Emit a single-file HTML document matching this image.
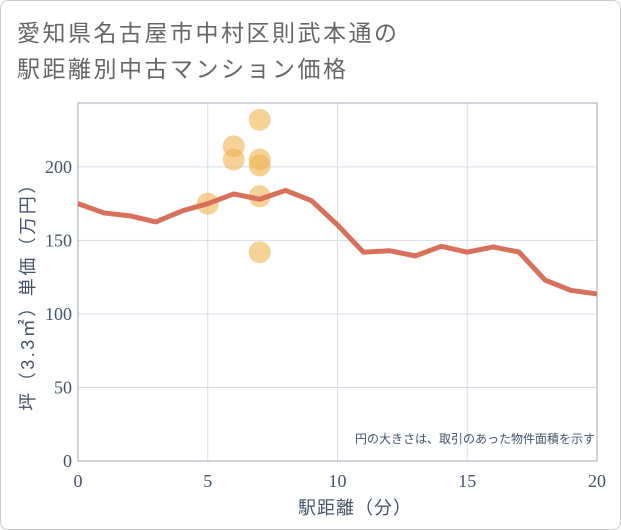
<!DOCTYPE html>
<html><head><meta charset="utf-8"><style>
body{margin:0;background:#fff;}
#wrap{position:relative;width:621px;height:530px;overflow:hidden;font-family:"Liberation Sans","Noto Sans CJK JP",sans-serif;}
#frame{position:absolute;left:0;top:0;width:619px;height:528px;border:1px solid #ccc;border-radius:8px;}
.title{position:absolute;left:17px;font-size:23px;color:#666;letter-spacing:2.5px;white-space:nowrap;}
</style></head><body>
<div id="wrap">
<div id="frame"></div>
<div class="title" style="top:14px">愛知県名古屋市中村区則武本通の</div>
<div class="title" style="top:50px">駅距離別中古マンション価格</div>
<svg id="svg" width="621" height="530" style="position:absolute;left:0;top:0"></svg>
</div>
<script>
const xTicks=[0,5,10,15,20];
const yTicks=[0,50,100,150,200];
const lineX=[0,1,2,3,4,5,6,7,8,9,10,11,12,13,14,15,16,17,18,19,20];
const lineY=[175,168.7,166.7,162.6,170,175,181.6,178,184,177,160.5,142,143,139.5,146,142,145.6,142,123,116,113.6];
const scatterX=[5,6,6,7,7,7,7,7];
const scatterY=[175,214,205,232,205,201,180,142];
const NS="http://www.w3.org/2000/svg";
const svg=document.getElementById('svg');
const L=78,R=597,T=103,B=461;
const xs=v=>L+(v-0)/(20-0)*(R-L);
const ys=v=>B-v*1.4705;
function mk(tag,attrs){const e=document.createElementNS(NS,tag);for(const k in attrs)e.setAttribute(k,attrs[k]);svg.appendChild(e);return e;}
let g;
for(const t of xTicks){
 g=mk('line',{x1:xs(t),x2:xs(t),y1:T,y2:B,stroke:'#d5dde8','stroke-width':1});
 
 
 g=mk('text',{x:xs(t),y:487,'text-anchor':'middle','font-size':18,fill:'#44546a','font-family':'Liberation Serif, serif'});
 g.textContent=t;
 
 
}
for(const t of yTicks){
 g=mk('line',{x1:L,x2:R,y1:ys(t),y2:ys(t),stroke:'#d5dde8','stroke-width':1});
 
 
 g=mk('text',{x:72,y:ys(t)+6,'text-anchor':'end','font-size':18,fill:'#44546a','font-family':'Liberation Serif, serif'});
 g.textContent=t;
 
 
}
g=mk('rect',{x:L,y:T,width:R-L,height:B-T,fill:'none',stroke:'#a0a8b4','stroke-width':1});


for(let i=0;i<scatterX.length;i++){
 g=mk('circle',{cx:xs(scatterX[i]),cy:ys(scatterY[i]),r:11,fill:'rgba(240,180,80,0.6)'});
 
 
}
g=mk('polyline',{points:lineX.map((x,i)=>xs(x)+','+ys(lineY[i])).join(' '),fill:'none',stroke:'#d9705a','stroke-width':5,'stroke-linejoin':'round'});


g=mk('text',{x:595,y:443,'text-anchor':'end','font-size':12,fill:'#44546a'});
g.textContent='円の大きさは、取引のあった物件面積を示す';


g=mk('text',{x:355,y:514,'text-anchor':'middle','font-size':18,fill:'#44546a','letter-spacing':1});
g.textContent='駅距離（分）';


g=mk('text',{x:0,y:0,'text-anchor':'middle','font-size':18,fill:'#44546a','letter-spacing':2.5,transform:'translate(34,292) rotate(-90)'});
g.textContent='坪（3.3㎡）単価（万円）';


</script>
</body></html>
